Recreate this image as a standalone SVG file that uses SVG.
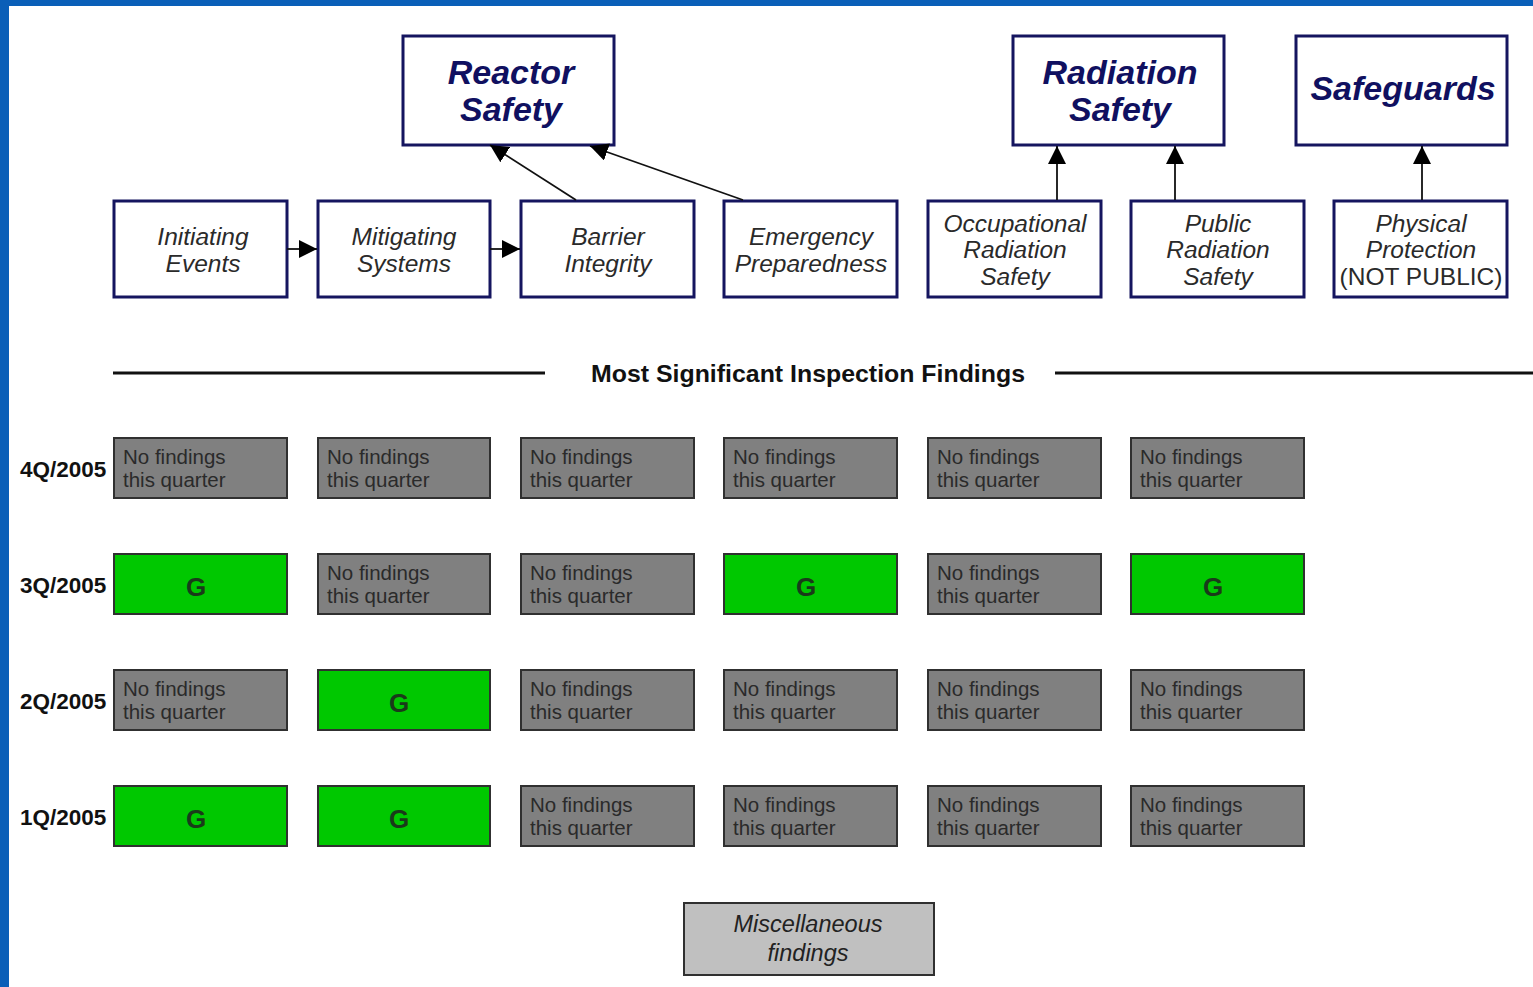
<svg xmlns="http://www.w3.org/2000/svg" width="1533" height="987" viewBox="0 0 1533 987">
<style>
.bg{fill:#ffffff}
.cat{fill:#ffffff;stroke:#15155f;stroke-width:3}
.cat-t{font-family:"Liberation Sans",Arial,sans-serif;font-weight:bold;font-style:italic;font-size:34px;fill:#101060;text-anchor:middle}
.sub{fill:#ffffff;stroke:#15155f;stroke-width:3}
.sub-t{font-family:"Liberation Sans",Arial,sans-serif;font-style:italic;font-size:24.5px;fill:#2a2a2a;text-anchor:middle}
.gray{fill:#808080;stroke:#303030;stroke-width:2}
.green{fill:#00c800;stroke:#303030;stroke-width:2}
.nf{font-family:"Liberation Sans",Arial,sans-serif;font-size:20.5px;fill:#2a2a2a}
.g{font-family:"Liberation Sans",Arial,sans-serif;font-size:26px;font-weight:bold;fill:#1a3a1a;text-anchor:middle}
.q{font-family:"Liberation Sans",Arial,sans-serif;font-size:22.5px;font-weight:bold;fill:#111}
.conn{stroke:#111;stroke-width:1.8;fill:none}
.rule{stroke:#111;stroke-width:3}
.misc{fill:#c0c0c0;stroke:#303030;stroke-width:2}
.misc-t{font-family:"Liberation Sans",Arial,sans-serif;font-style:italic;font-size:23.5px;fill:#222;text-anchor:middle}
</style>
<defs>
<marker id="ah2" viewBox="0 0 10 10" refX="10" refY="5" markerWidth="18" markerHeight="18" markerUnits="userSpaceOnUse" orient="auto">
<path d="M0,0 L10,5 L0,10 z" fill="#000"/>
</marker>
</defs>
<rect x="0" y="0" width="1533" height="987" fill="#0a5fb8"/>
<rect class="bg" x="9" y="6" width="1524" height="981"/>

<g id="reactor-safety"><rect class="cat" x="403" y="36" width="211" height="109"/><text class="cat-t" x="511" y="84">Reactor</text><text class="cat-t" x="511" y="121">Safety</text></g>
<g id="radiation-safety"><rect class="cat" x="1013" y="36" width="211" height="109"/><text class="cat-t" x="1120" y="84">Radiation</text><text class="cat-t" x="1120" y="121">Safety</text></g>
<g id="safeguards"><rect class="cat" x="1296" y="36" width="211" height="109"/><text class="cat-t" x="1403" y="100">Safeguards</text></g>

<g id="initiating-events"><rect class="sub" x="114" y="201" width="173" height="96"/><text class="sub-t" x="203" y="245">Initiating</text><text class="sub-t" x="203" y="272">Events</text></g>
<g id="mitigating-systems"><rect class="sub" x="318" y="201" width="172" height="96"/><text class="sub-t" x="404" y="245">Mitigating</text><text class="sub-t" x="404" y="272">Systems</text></g>
<g id="barrier-integrity"><rect class="sub" x="521" y="201" width="173" height="96"/><text class="sub-t" x="608" y="245">Barrier</text><text class="sub-t" x="608" y="272">Integrity</text></g>
<g id="emergency-preparedness"><rect class="sub" x="724" y="201" width="173" height="96"/><text class="sub-t" x="811" y="245">Emergency</text><text class="sub-t" x="811" y="272">Preparedness</text></g>
<g id="occupational-radiation-safety"><rect class="sub" x="928" y="201" width="173" height="96"/><text class="sub-t" x="1015" y="232">Occupational</text><text class="sub-t" x="1015" y="258">Radiation</text><text class="sub-t" x="1015" y="285">Safety</text></g>
<g id="public-radiation-safety"><rect class="sub" x="1131" y="201" width="173" height="96"/><text class="sub-t" x="1218" y="232">Public</text><text class="sub-t" x="1218" y="258">Radiation</text><text class="sub-t" x="1218" y="285">Safety</text></g>
<g id="physical-protection"><rect class="sub" x="1334" y="201" width="173" height="96"/><text class="sub-t" x="1421" y="232">Physical</text><text class="sub-t" x="1421" y="258">Protection</text><text class="sub-t" x="1421" y="285" style="font-style:normal">(NOT PUBLIC)</text></g>

<g id="connectors">
<line class="conn" x1="287" y1="249" x2="317" y2="249" marker-end="url(#ah2)"/>
<line class="conn" x1="490" y1="249" x2="520" y2="249" marker-end="url(#ah2)"/>
<line class="conn" x1="576" y1="200" x2="490" y2="145" marker-end="url(#ah2)"/>
<line class="conn" x1="743" y1="200" x2="590" y2="146" marker-end="url(#ah2)"/>
<line class="conn" x1="1057" y1="200" x2="1057" y2="146" marker-end="url(#ah2)"/>
<line class="conn" x1="1175" y1="200" x2="1175" y2="146" marker-end="url(#ah2)"/>
<line class="conn" x1="1422" y1="200" x2="1422" y2="146" marker-end="url(#ah2)"/>
</g>

<g id="heading">
<line class="rule" x1="113" y1="373" x2="545" y2="373"/>
<line class="rule" x1="1055" y1="373" x2="1533" y2="373"/>
<text x="808" y="382" text-anchor="middle" font-family="Liberation Sans Narrow,Liberation Sans,Arial,sans-serif" font-weight="bold" font-size="24" fill="#111" textLength="434" lengthAdjust="spacingAndGlyphs">Most Significant Inspection Findings</text>
</g>

<g id="quarter-labels">
<text class="q" x="20" y="477">4Q/2005</text>
<text class="q" x="20" y="593">3Q/2005</text>
<text class="q" x="20" y="709">2Q/2005</text>
<text class="q" x="20" y="825">1Q/2005</text>
</g>

<g id="row-4q">
<rect class="gray" x="114" y="438" width="173" height="60"/><text class="nf" x="123" y="464">No findings</text><text class="nf" x="123" y="487">this quarter</text>
<rect class="gray" x="318" y="438" width="172" height="60"/><text class="nf" x="327" y="464">No findings</text><text class="nf" x="327" y="487">this quarter</text>
<rect class="gray" x="521" y="438" width="173" height="60"/><text class="nf" x="530" y="464">No findings</text><text class="nf" x="530" y="487">this quarter</text>
<rect class="gray" x="724" y="438" width="173" height="60"/><text class="nf" x="733" y="464">No findings</text><text class="nf" x="733" y="487">this quarter</text>
<rect class="gray" x="928" y="438" width="173" height="60"/><text class="nf" x="937" y="464">No findings</text><text class="nf" x="937" y="487">this quarter</text>
<rect class="gray" x="1131" y="438" width="173" height="60"/><text class="nf" x="1140" y="464">No findings</text><text class="nf" x="1140" y="487">this quarter</text>
</g>
<g id="row-3q">
<rect class="green" x="114" y="554" width="173" height="60"/><text class="g" x="196" y="596">G</text>
<rect class="gray" x="318" y="554" width="172" height="60"/><text class="nf" x="327" y="580">No findings</text><text class="nf" x="327" y="603">this quarter</text>
<rect class="gray" x="521" y="554" width="173" height="60"/><text class="nf" x="530" y="580">No findings</text><text class="nf" x="530" y="603">this quarter</text>
<rect class="green" x="724" y="554" width="173" height="60"/><text class="g" x="806" y="596">G</text>
<rect class="gray" x="928" y="554" width="173" height="60"/><text class="nf" x="937" y="580">No findings</text><text class="nf" x="937" y="603">this quarter</text>
<rect class="green" x="1131" y="554" width="173" height="60"/><text class="g" x="1213" y="596">G</text>
</g>
<g id="row-2q">
<rect class="gray" x="114" y="670" width="173" height="60"/><text class="nf" x="123" y="696">No findings</text><text class="nf" x="123" y="719">this quarter</text>
<rect class="green" x="318" y="670" width="172" height="60"/><text class="g" x="399" y="712">G</text>
<rect class="gray" x="521" y="670" width="173" height="60"/><text class="nf" x="530" y="696">No findings</text><text class="nf" x="530" y="719">this quarter</text>
<rect class="gray" x="724" y="670" width="173" height="60"/><text class="nf" x="733" y="696">No findings</text><text class="nf" x="733" y="719">this quarter</text>
<rect class="gray" x="928" y="670" width="173" height="60"/><text class="nf" x="937" y="696">No findings</text><text class="nf" x="937" y="719">this quarter</text>
<rect class="gray" x="1131" y="670" width="173" height="60"/><text class="nf" x="1140" y="696">No findings</text><text class="nf" x="1140" y="719">this quarter</text>
</g>
<g id="row-1q">
<rect class="green" x="114" y="786" width="173" height="60"/><text class="g" x="196" y="828">G</text>
<rect class="green" x="318" y="786" width="172" height="60"/><text class="g" x="399" y="828">G</text>
<rect class="gray" x="521" y="786" width="173" height="60"/><text class="nf" x="530" y="812">No findings</text><text class="nf" x="530" y="835">this quarter</text>
<rect class="gray" x="724" y="786" width="173" height="60"/><text class="nf" x="733" y="812">No findings</text><text class="nf" x="733" y="835">this quarter</text>
<rect class="gray" x="928" y="786" width="173" height="60"/><text class="nf" x="937" y="812">No findings</text><text class="nf" x="937" y="835">this quarter</text>
<rect class="gray" x="1131" y="786" width="173" height="60"/><text class="nf" x="1140" y="812">No findings</text><text class="nf" x="1140" y="835">this quarter</text>
</g>

<g id="misc-findings"><rect class="misc" x="684" y="903" width="250" height="72"/><text class="misc-t" x="808" y="932">Miscellaneous</text><text class="misc-t" x="808" y="961">findings</text></g>
</svg>
